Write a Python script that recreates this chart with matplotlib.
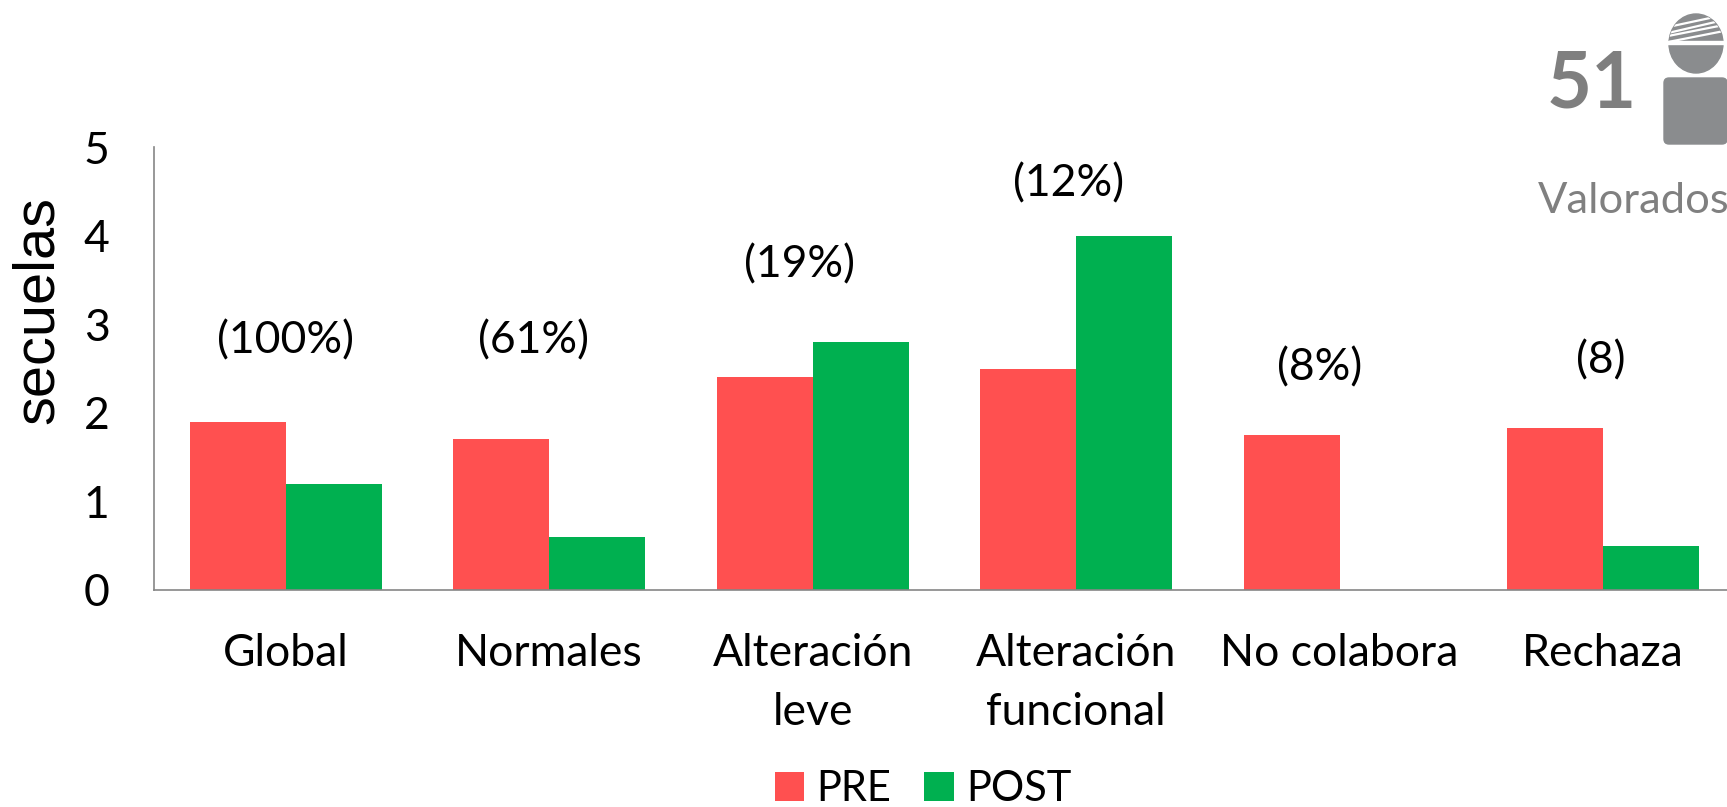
import matplotlib
matplotlib.use("Agg")
import matplotlib.pyplot as plt
from matplotlib.patches import Ellipse, FancyBboxPatch, Rectangle

plt.rcParams['font.family'] = ['Lato', 'DejaVu Sans']

categorias = ["Global", "Normales", "Alteración\nleve", "Alteración\nfuncional", "No colabora", "Rechaza"]
pre = [1.9, 1.7, 2.4, 2.5, 1.75, 1.83]
post = [1.2, 0.6, 2.8, 4.0, 0, 0.5]
porcentajes = ["(100%)", "(61%)", "(19%)", "(12%)", "(8%)", "(8)"]
x_pct = [0, 0.94, 1.95, 2.97, 3.925, 4.99]
alturas_pct = [2.81, 2.81, 3.67, 4.58, 2.51, 2.59]
ticks = [0, 1, 2, 3, 4, 5]

W, H = 1727, 807
fig = plt.figure(figsize=(W / 100, H / 100), dpi=100)
ax = fig.add_axes([154 / W, 1 - 590 / H, (W - 154) / W, (590 - 147) / H])

x = list(range(len(categorias)))
ancho = 0.364
ax.bar([i - ancho / 2 for i in x], pre, ancho, color="#FF5050", label="PRE")
ax.bar([i + ancho / 2 for i in x], post, ancho, color="#00B050", label="POST")

ax.set_xlim(-0.5, 5.47)
ax.set_ylim(0, 5)
ax.set_yticks(ticks)
ax.set_xticks(x)
ax.set_xticklabels(categorias, fontsize=32, linespacing=1.55)
ax.tick_params(axis='x', length=0, pad=31)
ax.tick_params(axis='y', length=0, pad=32, labelsize=32)
for s in ['top', 'right']:
    ax.spines[s].set_visible(False)
for s in ['left', 'bottom']:
    ax.spines[s].set_color("#868686")
    ax.spines[s].set_linewidth(1.2)

for xp, yp, t in zip(x_pct, alturas_pct, porcentajes):
    ax.text(xp, yp, t, ha='center', va='center', fontsize=32, color='black')

fig.text(38 / W, 1 - 310 / H, "secuelas", rotation=90, ha='center', va='center',
         fontsize=41.5, family='Liberation Sans')

fig.legend(loc='center', bbox_to_anchor=(923 / W, 1 - 789 / H), ncol=2, frameon=False,
           fontsize=30, handlelength=0.7, handleheight=0.7, handletextpad=0.3,
           columnspacing=0.8, borderpad=0)

# icono de persona con venda y total de valorados
fig.text(1592 / W, 1 - 85 / H, "51", ha='center', va='center', fontsize=56, weight='bold', color="#7F7F7F")
fig.text(1538 / W, 1 - 201 / H, "Valorados", ha='left', va='center', fontsize=31.3, color="#808080")

ov = fig.add_axes([0, 0, 1, 1], facecolor='none')
ov.set_xlim(0, W)
ov.set_ylim(H, 0)
ov.axis('off')
gris = "#8A8C8E"
cabeza = Ellipse((1696, 43.5), 54, 59, color=gris)
ov.add_patch(cabeza)
ov.add_patch(Rectangle((1665, 41), 62, 3, color="white"))
# vendas sobre la mitad superior de la cabeza
for y0, y1 in [(33, 20), (27, 15), (36, 25), (42, 31)]:
    linea, = ov.plot([1668, 1724], [y0, y1], color="white", lw=1.6)
    linea.set_clip_path(cabeza)
ov.add_patch(FancyBboxPatch((1664, 78), 63, 66, boxstyle="round,pad=0,rounding_size=5", color=gris, clip_on=False))

fig.savefig("out.png", dpi=100)
